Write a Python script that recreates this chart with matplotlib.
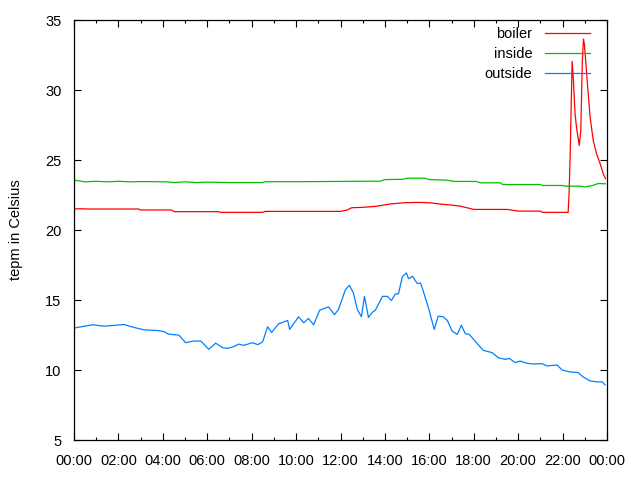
import matplotlib
matplotlib.use("Agg")
import matplotlib.pyplot as plt
from matplotlib.ticker import MultipleLocator, FuncFormatter

plt.rcParams['font.family'] = ['Liberation Sans', 'DejaVu Sans']

# time in hours since midnight, temperatures in Celsius
boiler_t = [0, 0.3, 0.6, 2.9, 3.0, 4.4, 4.5, 6.5, 6.6, 8.5, 8.6, 12.0, 12.3, 12.5,
            13.0, 13.6, 14.0, 14.3, 14.9, 15.5, 16.0, 16.5, 17.0, 17.4, 18.0, 19.5,
            20.0, 21.0, 21.1, 22.25, 22.29, 22.34, 22.43, 22.49, 22.56, 22.63, 22.75,
            22.82, 22.89, 22.94, 22.98, 23.04, 23.13, 23.24, 23.38, 23.53, 23.69,
            23.83, 23.93]
boiler = [21.5, 21.52, 21.5, 21.5, 21.43, 21.43, 21.31, 21.31, 21.26, 21.26, 21.33,
          21.33, 21.43, 21.59, 21.62, 21.69, 21.8, 21.87, 21.95, 21.97, 21.95, 21.85,
          21.78, 21.7, 21.47, 21.47, 21.35, 21.35, 21.26, 21.26, 22.5, 25.2, 32.04,
          30.66, 28.3, 27.3, 26.04, 27.1, 32.1, 33.63, 33.3, 32.1, 30.2, 28.06, 26.4,
          25.45, 24.74, 24.03, 23.68]

inside_t = [0, 0.5, 1.0, 1.5, 2.0, 2.5, 3.0, 4.2, 4.5, 5.0, 5.5, 6.0, 7.0, 8.5, 8.6,
            10, 12, 13.8, 14.0, 14.8, 15.0, 15.8, 16.0, 16.8, 17.1, 18.1, 18.3, 19.2,
            19.3, 21.0, 21.1, 22.0, 22.2, 22.8, 23.0, 23.2, 23.4, 23.6, 23.93]
inside = [23.56, 23.44, 23.48, 23.44, 23.48, 23.44, 23.46, 23.44, 23.39, 23.44, 23.39,
          23.42, 23.39, 23.39, 23.45, 23.45, 23.47, 23.49, 23.6, 23.62, 23.70, 23.70,
          23.6, 23.56, 23.47, 23.47, 23.37, 23.37, 23.25, 23.25, 23.18, 23.18, 23.13,
          23.13, 23.08, 23.13, 23.2, 23.32, 23.3]

outside_t = [0, 0.09, 0.84, 1.35, 2.25, 2.70, 3.15, 3.78, 4.04, 4.27, 4.72, 5.03, 5.39,
             5.71, 6.07, 6.38, 6.70, 6.92, 7.19, 7.42, 7.64, 8.04, 8.27, 8.49, 8.72,
             8.90, 9.21, 9.62, 9.71, 10.11, 10.34, 10.56, 10.79, 11.06, 11.46, 11.73,
             11.91, 12.22, 12.40, 12.58, 12.76, 12.94, 13.08, 13.26, 13.44, 13.57,
             13.89, 14.11, 14.29, 14.47, 14.61, 14.79, 14.97, 15.06, 15.24, 15.46,
             15.60, 15.73, 15.96, 16.22, 16.40, 16.63, 16.81, 17.03, 17.26, 17.44,
             17.62, 17.80, 18.16, 18.43, 18.83, 19.10, 19.42, 19.60, 19.87, 20.09,
             20.40, 20.67, 21.08, 21.30, 21.75, 21.98, 22.34, 22.70, 22.92, 23.24,
             23.55, 23.78, 23.91]
outside = [13.0, 13.02, 13.23, 13.13, 13.25, 13.04, 12.87, 12.82, 12.75, 12.56, 12.49,
           11.95, 12.07, 12.07, 11.48, 11.92, 11.59, 11.55, 11.67, 11.85, 11.76, 11.95,
           11.81, 12.0, 13.09, 12.68, 13.30, 13.54, 12.9, 13.8, 13.37, 13.68, 13.23,
           14.27, 14.51, 13.96, 14.32, 15.74, 16.05, 15.5, 14.32, 13.8, 15.26, 13.75,
           14.13, 14.27, 15.26, 15.26, 14.96, 15.43, 15.45, 16.69, 16.93, 16.52, 16.69,
           16.17, 16.22, 15.62, 14.44, 12.9, 13.85, 13.8, 13.54, 12.78, 12.54, 13.2,
           12.6, 12.54, 11.88, 11.4, 11.24, 10.88, 10.76, 10.83, 10.53, 10.64, 10.48,
           10.43, 10.45, 10.29, 10.36, 10.0, 9.86, 9.82, 9.51, 9.22, 9.15, 9.16, 8.94]

fig = plt.figure(figsize=(6.4, 4.8), dpi=100)
ax = fig.add_axes([74 / 640, 40 / 480, 533 / 640, 420 / 480])

ax.plot(boiler_t, boiler, color='#ff0000', lw=0.9, label='boiler')
ax.plot(inside_t, inside, color='#00c000', lw=0.9, label='inside')
ax.plot(outside_t, outside, color='#0080ff', lw=0.9, label='outside')

ax.set_xlim(0, 24)
ax.set_ylim(5, 35)
ax.xaxis.set_major_locator(MultipleLocator(2))
ax.xaxis.set_minor_locator(MultipleLocator(1))
ax.yaxis.set_major_locator(MultipleLocator(5))
ax.xaxis.set_major_formatter(FuncFormatter(lambda v, p: "%02d:00" % (int(round(v)) % 24)))
ax.tick_params(which='both', direction='in', top=True, right=True, labelsize=10.5,
               width=0.8)
ax.tick_params(axis='x', pad=10)
ax.tick_params(axis='y', pad=9)
ax.tick_params(which='major', length=5)
ax.tick_params(which='minor', length=2.5)
for s in ax.spines.values():
    s.set_linewidth(0.9)

ax.set_ylabel('tepm in Celsius', fontsize=10.5, labelpad=16)

ax.legend(loc='upper right', bbox_to_anchor=(1 - 17 / 533, 1 - 7 / 420),
          frameon=False, markerfirst=False, fontsize=10.5, handlelength=3.1,
          handletextpad=0.85, labelspacing=0.42, borderpad=0, borderaxespad=0)

fig.savefig('out.png', dpi=100)
